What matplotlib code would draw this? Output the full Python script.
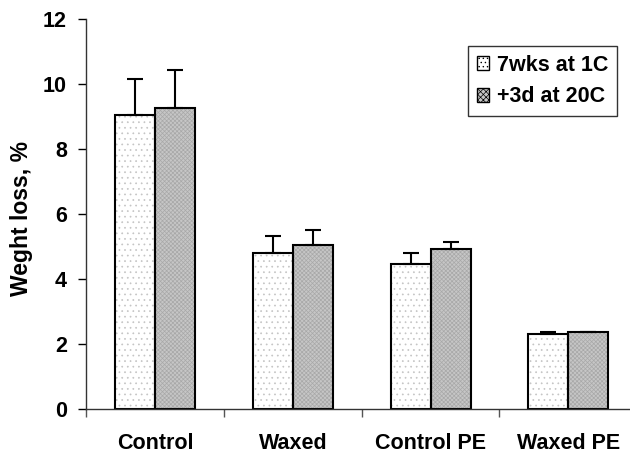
import numpy as np
import matplotlib
matplotlib.use('Agg')
from matplotlib import pyplot as plt
from matplotlib.patches import Patch

plt.rcParams['font.family'] = ['Liberation Sans', 'DejaVu Sans']
plt.rcParams['font.weight'] = 'bold'
plt.rcParams['hatch.linewidth'] = 0.5

# data
categories = ['Control', 'Waxed', 'Control PE', 'Waxed PE']
cold_vals = [9.05, 4.82, 4.47, 2.32]
cold_err = [1.10, 0.50, 0.35, 0.05]
warm_vals = [9.27, 5.05, 4.94, 2.37]
warm_err = [1.15, 0.45, 0.20, 0.01]
series_names = ['7wks at 1C', '+3d at 20C']
yticks = [0, 2, 4, 6, 8, 10, 12]

fig = plt.figure(figsize=(6.3, 4.54), dpi=100)
ax = fig.add_axes([0.1373, 0.0985, 0.874, 0.8595])

x = np.arange(len(categories))
w = 0.29
fs = 15.5

# hatched fill first, then the black outline on top
ax.bar(x - w / 2, cold_vals, w, color='white', edgecolor='#c4c4c4', hatch='...', linewidth=0)
ax.bar(x + w / 2, warm_vals, w, color='#c6c6c6', edgecolor='#a8a8a8', hatch='xxxxxxxx', linewidth=0)
ax.bar(x - w / 2, cold_vals, w, fill=False, edgecolor='black', linewidth=1.5)
ax.bar(x + w / 2, warm_vals, w, fill=False, edgecolor='black', linewidth=1.5)

zeros = np.zeros(len(categories))
ax.errorbar(x - w / 2, cold_vals, yerr=[zeros, cold_err], fmt='none', ecolor='black',
            elinewidth=1.5, capsize=6, capthick=1.5)
ax.errorbar(x + w / 2, warm_vals, yerr=[zeros, warm_err], fmt='none', ecolor='black',
            elinewidth=1.5, capsize=6, capthick=1.5)

ax.set_xlim(-0.5, len(categories) - 0.5)
ax.set_ylim(0, 12)
ax.set_yticks(yticks)
ax.set_yticklabels([str(t) for t in yticks], fontsize=fs, fontweight='bold')

# categories labelled at centres, ticks at boundaries
ax.set_xticks(x)
ax.set_xticklabels(categories, fontsize=fs, fontweight='bold')
ax.tick_params(axis='x', which='major', length=0, pad=17)
ax.set_xticks(np.arange(len(categories) + 1) - 0.5, minor=True)
ax.tick_params(axis='x', which='minor', length=6, width=1, color='#555555', direction='out')
ax.tick_params(axis='y', length=6, width=1, direction='out', pad=8)

for s in ['top', 'right']:
    ax.spines[s].set_visible(False)
ax.spines['left'].set_linewidth(1)
ax.spines['left'].set_color('#333333')
ax.spines['bottom'].set_linewidth(1)
ax.spines['bottom'].set_color('#333333')

fig.text(22 / 630, 1 - 218 / 454, 'Weght loss, %', rotation=90, ha='center', va='center',
         fontsize=16.5, fontweight='bold')

handles = [
    Patch(facecolor='white', edgecolor='black', hatch='....', linewidth=1),
    Patch(facecolor='#c6c6c6', edgecolor='black', hatch='xxxxxx', linewidth=1),
]
leg = fig.legend(handles, series_names, loc='upper right',
                 bbox_to_anchor=(617 / 630, 1 - 46 / 454), fontsize=fs,
                 frameon=True, fancybox=False, handlelength=0.6, handleheight=0.6,
                 handletextpad=0.35, labelspacing=0.5, borderpad=0.4, borderaxespad=0)
leg.get_frame().set_edgecolor('black')
leg.get_frame().set_linewidth(1)
for t in leg.get_texts():
    t.set_fontweight('bold')

fig.savefig('out.png', dpi=100)
